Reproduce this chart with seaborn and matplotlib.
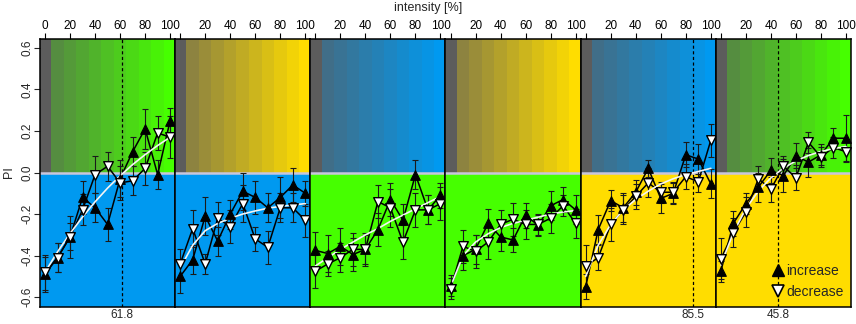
import numpy as np
import pandas as pd
import matplotlib
matplotlib.use("Agg")
import matplotlib.pyplot as plt
from matplotlib.lines import Line2D
import seaborn as sns

# data
intensity = [0, 10, 20, 30, 40, 50, 60, 70, 80, 90, 100]

inc_1 = [-0.49, -0.41, -0.31, -0.12, -0.17, -0.25, -0.03, 0.10, 0.21, -0.01, 0.25]
dec_1 = [-0.48, -0.41, -0.31, -0.18, -0.01, 0.03, -0.05, -0.04, 0.02, 0.19, 0.17]
inc_err_1 = [0.085, 0.07, 0.065, 0.08, 0.07, 0.08, 0.09, 0.07, 0.095, 0.07, 0.06]
dec_err_1 = [0.085, 0.07, 0.10, 0.075, 0.09, 0.07, 0.08, 0.07, 0.08, 0.08, 0.10]
fit_1 = [-0.48, -0.382, -0.294, -0.214, -0.141, -0.075, -0.016, 0.038, 0.086, 0.130, 0.170]

inc_2 = [-0.50, -0.42, -0.21, -0.33, -0.20, -0.09, -0.12, -0.17, -0.12, -0.06, -0.10]
dec_2 = [-0.44, -0.27, -0.44, -0.22, -0.26, -0.15, -0.32, -0.36, -0.17, -0.17, -0.23]
inc_err_2 = [0.08, 0.07, 0.09, 0.07, 0.07, 0.09, 0.08, 0.07, 0.10, 0.08, 0.06]
dec_err_2 = [0.07, 0.09, 0.05, 0.08, 0.08, 0.09, 0.06, 0.08, 0.07, 0.07, 0.08]
fit_2 = [-0.46, -0.35, -0.28, -0.245, -0.22, -0.20, -0.185, -0.172, -0.163, -0.156, -0.15]

inc_3 = [-0.375, -0.39, -0.355, -0.395, -0.37, -0.275, -0.13, -0.23, -0.01, -0.18, -0.11]
dec_3 = [-0.475, -0.44, -0.41, -0.37, -0.37, -0.14, -0.17, -0.335, -0.18, -0.18, -0.15]
inc_err_3 = [0.09, 0.09, 0.09, 0.08, 0.07, 0.08, 0.08, 0.08, 0.07, 0.07, 0.06]
dec_err_3 = [0.08, 0.06, 0.07, 0.08, 0.08, 0.08, 0.09, 0.08, 0.08, 0.07, 0.08]
fit_3 = [-0.45, -0.41, -0.37, -0.335, -0.30, -0.27, -0.235, -0.205, -0.175, -0.145, -0.115]

inc_4 = [-0.545, -0.40, -0.37, -0.245, -0.31, -0.325, -0.205, -0.255, -0.16, -0.13, -0.18]
dec_4 = [-0.56, -0.355, -0.38, -0.335, -0.25, -0.225, -0.25, -0.25, -0.22, -0.16, -0.245]
inc_err_4 = [0.05, 0.07, 0.07, 0.07, 0.07, 0.06, 0.06, 0.05, 0.07, 0.06, 0.07]
dec_err_4 = [0.05, 0.08, 0.08, 0.08, 0.07, 0.08, 0.07, 0.05, 0.07, 0.05, 0.07]
fit_4 = [-0.55, -0.40, -0.335, -0.295, -0.265, -0.245, -0.23, -0.215, -0.20, -0.19, -0.183]

inc_5 = [-0.55, -0.275, -0.135, -0.17, -0.095, 0.02, -0.125, -0.10, 0.085, 0.065, -0.055]
dec_5 = [-0.45, -0.41, -0.25, -0.18, -0.115, -0.05, -0.095, -0.095, -0.02, -0.045, 0.155]
inc_err_5 = [0.06, 0.07, 0.05, 0.07, 0.06, 0.04, 0.07, 0.05, 0.06, 0.07, 0.07]
dec_err_5 = [0.10, 0.06, 0.08, 0.07, 0.06, 0.07, 0.05, 0.05, 0.06, 0.05, 0.08]
fit_5 = [-0.50, -0.35, -0.25, -0.18, -0.13, -0.09, -0.055, -0.03, -0.01, 0.005, 0.02]

inc_6 = [-0.475, -0.245, -0.15, -0.07, 0.01, -0.015, 0.08, 0.05, 0.085, 0.165, 0.165]
dec_6 = [-0.415, -0.29, -0.19, -0.03, -0.08, 0.03, -0.025, 0.145, 0.075, 0.12, 0.10]
inc_err_6 = [0.05, 0.06, 0.05, 0.07, 0.06, 0.08, 0.06, 0.07, 0.05, 0.05, 0.11]
dec_err_6 = [0.10, 0.07, 0.07, 0.06, 0.06, 0.05, 0.06, 0.05, 0.05, 0.05, 0.05]
fit_6 = [-0.445, -0.29, -0.174, -0.089, -0.026, 0.021, 0.056, 0.082, 0.101, 0.115, 0.125]

crossings = [61.8, None, None, None, 85.5, 45.8]

x_ticks = [0, 20, 40, 60, 80, 100]
y_ticks = [-0.6, -0.4, -0.2, 0.0, 0.2, 0.4, 0.6]
y_tick_labels = ["-0.6", "-0.4", "-0.2", "0.0", "0.2", "0.4", "0.6"]

GREEN = "#46ff00"
BLUE = "#0099f0"
YELLOW = "#ffdd00"
GRAY = "#5c5c5c"
top_colors = [GREEN, YELLOW, BLUE, YELLOW, BLUE, GREEN]
bottom_colors = [BLUE, BLUE, GREEN, GREEN, YELLOW, YELLOW]

panels = [
    (inc_1, dec_1, inc_err_1, dec_err_1, fit_1),
    (inc_2, dec_2, inc_err_2, dec_err_2, fit_2),
    (inc_3, dec_3, inc_err_3, dec_err_3, fit_3),
    (inc_4, dec_4, inc_err_4, dec_err_4, fit_4),
    (inc_5, dec_5, inc_err_5, dec_err_5, fit_5),
    (inc_6, dec_6, inc_err_6, dec_err_6, fit_6),
]

sns.set_style("ticks")
plt.rcParams["font.family"] = ["Liberation Sans", "DejaVu Sans"]
plt.rcParams["font.size"] = 8


def blend(c, f):
    a = np.array(matplotlib.colors.to_rgb(GRAY))
    b = np.array(matplotlib.colors.to_rgb(c))
    return tuple(a + (b - a) * f)


fig, axes = plt.subplots(1, 6, figsize=(8.56, 3.24), dpi=100, sharey=True)
fig.subplots_adjust(left=40 / 856, right=851 / 856, top=1 - 38.5 / 324,
                    bottom=1 - 306.5 / 324, wspace=0)

for i, ax in enumerate(axes):
    inc, dec, inc_err, dec_err, fit = panels[i]

    # background: stepped gradient above zero, solid colour below
    for xi in intensity:
        f = 0.0 if xi == 0 else 0.3 + 0.7 * (xi - 10) / 90
        ax.axvspan(xi - 5, xi + 5, ymin=0.5, ymax=1, color=blend(top_colors[i], f),
                   lw=0, zorder=0)
    ax.axhspan(-1, 0, color=bottom_colors[i], lw=0, zorder=0)
    ax.axhline(0, color="#c9c6dc", lw=1.8, zorder=1)

    if crossings[i] is not None:
        ax.axvline(crossings[i], color="black", lw=0.9, ls=(0, (2.5, 2)), zorder=1)
        ax.annotate(f"{crossings[i]}", xy=(crossings[i], 0),
                    xycoords=("data", "axes fraction"), xytext=(0, -2),
                    textcoords="offset points", ha="center", va="top", fontsize=8.5)

    ax.errorbar(intensity, inc, yerr=inc_err, fmt="none", ecolor="#1a1a1a",
                elinewidth=0.8, capsize=2.5, capthick=0.8, zorder=2)
    ax.errorbar(intensity, dec, yerr=dec_err, fmt="none", ecolor="#1a1a1a",
                elinewidth=0.8, capsize=2.5, capthick=0.8, zorder=2)

    df = pd.DataFrame({"intensity": intensity, "inc": inc, "dec": dec, "fit": fit})
    sns.lineplot(data=df, x="intensity", y="inc", ax=ax, color="black", lw=1.1,
                 zorder=3)
    sns.lineplot(data=df, x="intensity", y="dec", ax=ax, color="black", lw=1.1,
                 zorder=3)
    sns.lineplot(data=df, x="intensity", y="fit", ax=ax, color="#f4f4f4", lw=1.2,
                 zorder=3.5)
    sns.scatterplot(data=df, x="intensity", y="inc", ax=ax, marker="^", s=48,
                    color="black", edgecolor="black", linewidth=0.8, zorder=4)
    sns.scatterplot(data=df, x="intensity", y="dec", ax=ax, marker="v", s=48,
                    color="white", edgecolor="black", linewidth=1.0, zorder=4)

    ax.set_xlim(-4, 104)
    ax.set_ylim(-0.645, 0.645)
    ax.set_xlabel("")
    ax.set_ylabel("")
    ax.xaxis.tick_top()
    ax.set_xticks(x_ticks)
    ax.set_xticklabels([str(t) if (t != 0 or i == 0) else "" for t in x_ticks])
    ax.tick_params(axis="x", direction="out", length=4, width=0.8, pad=1,
                   labelsize=8.5, colors="black")
    if i == 0:
        ax.set_yticks(y_ticks)
        ax.set_yticklabels(y_tick_labels, rotation=90, va="center")
        ax.tick_params(axis="y", direction="out", length=4, width=0.8, pad=1,
                       labelsize=8.5)
    else:
        ax.tick_params(axis="y", left=False, labelleft=False)
    for s in ax.spines.values():
        s.set_visible(True)
        s.set_color("black")
        s.set_linewidth(1.1)

handles = [
    Line2D([], [], ls="none", marker="^", markersize=9, markerfacecolor="black",
           markeredgecolor="black"),
    Line2D([], [], ls="none", marker="v", markersize=9, markerfacecolor="white",
           markeredgecolor="black", markeredgewidth=1.2),
]
axes[-1].legend(handles, ["increase", "decrease"], loc="lower right", frameon=False,
                fontsize=10, handlelength=0.6, handletextpad=0.25, labelspacing=0.5,
                borderaxespad=0.15)

fig.text(0.5, 1 - 8 / 324, "intensity [%]", ha="center", va="center", fontsize=9)
fig.text(9 / 856, 1 - 172 / 324, "PI", ha="center", va="center", rotation=90,
         fontsize=9)

fig.savefig("out.png", dpi=100)
